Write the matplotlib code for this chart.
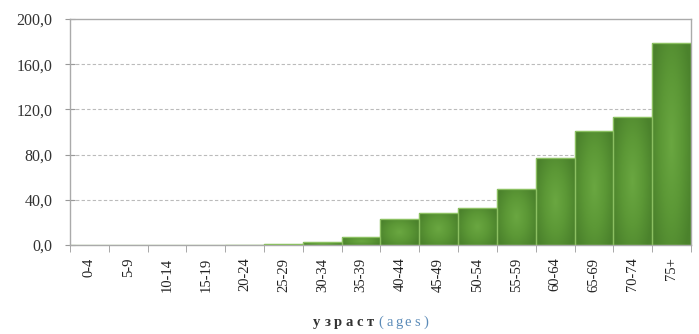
import numpy as np
import matplotlib.pyplot as plt
from matplotlib.colors import LinearSegmentedColormap
from matplotlib.ticker import FuncFormatter

# --- data ---
age_groups = ["0-4", "5-9", "10-14", "15-19", "20-24", "25-29", "30-34", "35-39",
              "40-44", "45-49", "50-54", "55-59", "60-64", "65-69", "70-74", "75+"]
rates = [0.0, 0.0, 0.0, 0.0, 0.2, 1.2, 2.4, 6.8,
         22.8, 28.4, 32.5, 50.0, 76.8, 101.0, 112.9, 179.0]
y_ticks = [0, 40, 80, 120, 160, 200]

plt.rcParams['font.family'] = ['Liberation Serif', 'DejaVu Serif']

W, H = 699, 334
fig = plt.figure(figsize=(W / 100, H / 100), dpi=100)
ax = fig.add_axes([70 / W, (H - 245) / H, 621 / W, 226 / H])

x = np.arange(len(age_groups))
bars = ax.bar(x, rates, width=1.0, color="#5a9535", edgecolor="#8cc062",
              linewidth=0.9, zorder=2)

# soft radial-ish gradient inside each bar
cmap = LinearSegmentedColormap.from_list("grn", ["#4b822c", "#5c9836", "#6aa741"])
gx = np.linspace(-1, 1, 60)
gy = np.linspace(-1, 1, 120)
GX, GY = np.meshgrid(gx, gy)
grad = 1 - np.clip(np.sqrt(GX ** 2 * 0.8 + GY ** 2 * 0.5), 0, 1)
for b in bars:
    h = b.get_height()
    if h <= 0:
        continue
    x0 = b.get_x()
    im = ax.imshow(grad, cmap=cmap, extent=(x0, x0 + b.get_width(), 0, h),
                   aspect="auto", origin="lower", zorder=2.5, vmin=0, vmax=1)
    im.set_clip_path(b)
    ax.add_patch(plt.Rectangle((x0, 0), b.get_width(), h, fill=False,
                               edgecolor="#8cc062", linewidth=0.9, zorder=3))

ax.set_xlim(-0.5, len(age_groups) - 0.5)
ax.set_ylim(0, 200)
ax.set_yticks(y_ticks)
ax.yaxis.set_major_formatter(FuncFormatter(lambda v, p: f"{v:.1f}".replace(".", ",")))
ax.set_xticks(x)
ax.set_xticklabels(age_groups, rotation=90, fontsize=10.5, color="#222222")
ax.set_xticks(np.arange(-0.5, len(age_groups), 1.0), minor=True)
ax.tick_params(axis="x", which="major", length=0, pad=9)
ax.tick_params(axis="x", which="minor", length=5, color="#999999", direction="out")
ax.tick_params(axis="y", length=7, color="#999999", direction="inout",
               labelsize=11.5, labelcolor="#333333", pad=9)

for v in y_ticks[1:-1]:
    ax.axhline(v, color="#bbbbbb", linestyle=(0, (3, 2)), linewidth=0.8, zorder=1)

for side in ["left", "bottom", "top", "right"]:
    ax.spines[side].set_color("#aaaaaa")
    ax.spines[side].set_linewidth(1.0)

# letter-spaced axis title
base_y = (H - 326) / H
for i, ch in enumerate("узраст"):
    fig.text((317 + 10.6 * i) / W, base_y, ch, ha="center", va="baseline",
             fontsize=10.5, color="#333333", fontweight="bold")
for i, ch in enumerate("(ages)"):
    fig.text((381 + 9.0 * i) / W, base_y, ch, ha="center", va="baseline",
             fontsize=10.5, color="#5b8bb8")

plt.savefig("out.png", dpi=100)
